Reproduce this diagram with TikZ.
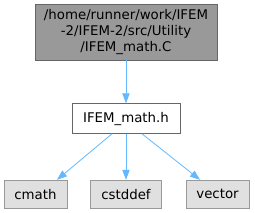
\documentclass[tikz,border=0pt]{standalone}
\usepackage{fontspec}
\setmainfont{DejaVu Sans}
\usetikzlibrary{arrows.meta, positioning}
\definecolor{dxedge}{RGB}{99,184,255}
\definecolor{dxdark}{RGB}{102,102,102}
\definecolor{dxgrey}{RGB}{153,153,153}
\definecolor{dxlight}{RGB}{224,224,224}

\begin{document}
\begin{tikzpicture}[node distance=0.7cm,
  file/.style={rectangle, draw=dxdark, fill=white, minimum height=22.5pt, inner sep=2pt, align=center, font=\fontsize{10}{12}\selectfont},
  root/.style={file, fill=dxgrey, minimum width=136.5pt, minimum height=42pt},
  sys/.style={file, draw=dxgrey, fill=dxlight, minimum height=21pt},
  arr/.style={-{Triangle[length=7.5pt, width=5.5pt]}, draw=dxedge, line width=0.6pt}
]
\useasboundingbox (0,0) rectangle (191.25pt,-159pt);
\node[root] (mathC) at (94.5pt,-24pt) {/home/runner/work/IFEM\\-2/IFEM-2/src/Utility\\/IFEM\_math.C};
\node[file, minimum width=81pt, below=32.25pt of mathC] (mathH) {IFEM\_math.h};
\node[sys, minimum width=53.25pt, below=34.5pt of mathH] (cstddef) {cstddef};
\node[sys, minimum width=47.25pt, left=17.25pt of cstddef] (cmath) {cmath};
\node[sys, minimum width=47.25pt, right=18pt of cstddef] (vector) {vector};
\draw[arr] (mathC) -- (mathH);
\draw[arr] (mathH.south -| 84pt,0) -- (cmath.north -| 42.75pt,0);
\draw[arr] (mathH) -- (cstddef);
\draw[arr] (mathH.south -| 106.5pt,0) -- (vector.north -| 150pt,0);
\end{tikzpicture}
\end{document}
